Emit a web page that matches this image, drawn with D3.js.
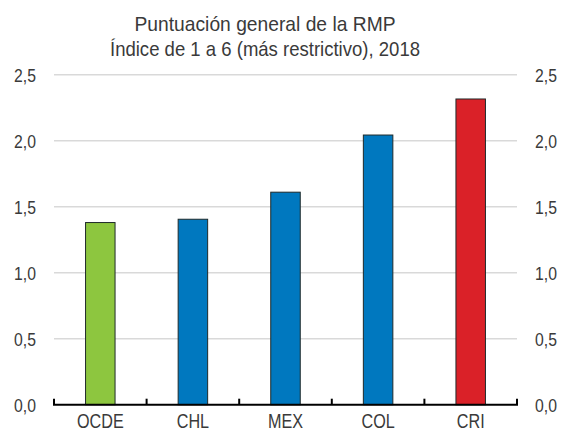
<!DOCTYPE html>
<html>
<head>
  <meta charset="utf-8">
  <title>Puntuación general de la RMP</title>
  <style>
    body { margin: 0; background: #fff; }
    text { font-family: "Liberation Sans Narrow", "Arial Narrow", "Liberation Sans", sans-serif; fill: #3a3a3a; }
  </style>
</head>
<body>
  <svg width="561" height="429"></svg>
  <script src="https://d3js.org/d3.v7.min.js"></script>
  <script>
  // datos
  var categories = ['OCDE', 'CHL', 'MEX', 'COL', 'CRI'];
  var values = [1.38, 1.405, 1.61, 2.043, 2.316];
  var colors = ['#8dc63f', '#0078bf', '#0078bf', '#0078bf', '#da2128'];
  var yTicks = [0, 0.5, 1, 1.5, 2, 2.5];
  var titleLines = ['Puntuación general de la RMP', 'Índice de 1 a 6 (más restrictivo), 2018'];
  var titleWidths = [261, 310];

  var svg = d3.select('svg');
  var mLeft = 54, mRight = 517, mTop = 74.7, mBottom = 404.7;
  var squeeze = 0.83; // letra estrecha

  var x = d3.scaleBand().domain(categories).range([mLeft, mRight]);
  var y = d3.scaleLinear().domain([0, 2.5]).range([mBottom, mTop]);
  var fmt = function(d) { return d3.format('.1f')(d).replace('.', ','); };

  // título
  svg.selectAll('.title')
    .data(titleLines)
    .enter()
    .append('text')
    .attr('x', function(d, i) { return 265 - titleWidths[i] / 2; })
    .attr('y', function(d, i) { return 31 + i * 25; })
    .attr('textLength', function(d, i) { return titleWidths[i]; })
    .attr('lengthAdjust', 'spacingAndGlyphs')
    .style('font-size', '21px')
    .text(function(d) { return d; });

  // líneas de cuadrícula
  svg.selectAll('.grid')
    .data(yTicks.filter(function(d) { return d > 0; }))
    .enter()
    .append('line')
    .attr('x1', mLeft)
    .attr('x2', mRight)
    .attr('y1', function(d) { return y(d); })
    .attr('y2', function(d) { return y(d); })
    .style('stroke', '#d9d9d9')
    .style('stroke-width', 1.5);

  // etiquetas del eje y (izquierda y derecha)
  svg.selectAll('.yl')
    .data(yTicks)
    .enter()
    .append('text')
    .attr('transform', function(d) { return 'translate(36,' + y(d) + ') scale(' + squeeze + ',1)'; })
    .attr('text-anchor', 'end')
    .attr('dy', '0.36em')
    .style('font-size', '19px')
    .text(fmt);

  svg.selectAll('.yr')
    .data(yTicks)
    .enter()
    .append('text')
    .attr('transform', function(d) { return 'translate(535,' + y(d) + ') scale(' + squeeze + ',1)'; })
    .attr('text-anchor', 'start')
    .attr('dy', '0.36em')
    .style('font-size', '19px')
    .text(fmt);

  // barras
  var barW = 29.5;
  svg.selectAll('.bar')
    .data(values)
    .enter()
    .append('rect')
    .attr('x', function(d, i) { return x(categories[i]) + x.bandwidth() / 2 - barW / 2; })
    .attr('y', function(d) { return y(d); })
    .attr('width', barW)
    .attr('height', function(d) { return y(0) - y(d); })
    .style('fill', function(d, i) { return colors[i]; })
    .style('stroke', '#1f2a2a')
    .style('stroke-width', 1);

  // eje x
  svg.selectAll('.xl')
    .data(categories)
    .enter()
    .append('text')
    .attr('transform', function(d) { return 'translate(' + (x(d) + x.bandwidth() / 2) + ',428) scale(' + squeeze + ',1)'; })
    .attr('text-anchor', 'middle')
    .style('font-size', '19.5px')
    .text(function(d) { return d; });

  svg.append('line')
    .attr('x1', mLeft - 1).attr('x2', mRight + 1)
    .attr('y1', mBottom).attr('y2', mBottom)
    .style('stroke', '#000').style('stroke-width', 2);

  var bounds = [mLeft].concat(categories.map(function(c) { return x(c) + x.bandwidth(); }));
  svg.selectAll('.xtick')
    .data(bounds)
    .enter()
    .append('line')
    .attr('x1', function(d) { return d; })
    .attr('x2', function(d) { return d; })
    .attr('y1', mBottom)
    .attr('y2', mBottom - 6)
    .style('stroke', '#000').style('stroke-width', 2);
  </script>
</body>
</html>
